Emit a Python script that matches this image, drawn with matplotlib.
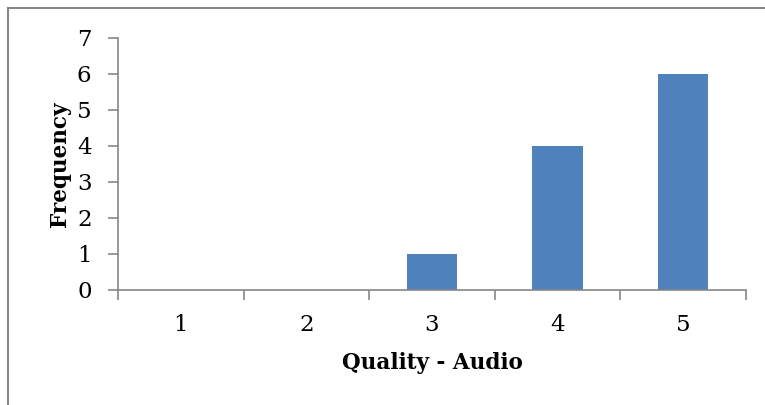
import matplotlib.pyplot as plt
from matplotlib.lines import Line2D

categories = ['1', '2', '3', '4', '5']
frequency = [0, 0, 1, 4, 6]

plt.rcParams['font.family'] = ['DejaVu Serif']

fig = plt.figure(figsize=(7.65, 4.05), dpi=100)
ax = fig.add_axes([118/765, 1 - 290/405, (746-118)/765, (290-38)/405])

x = range(len(categories))
ax.bar(x, frequency, width=0.4, color='#4f81bd')

ax.set_xlim(-0.5, len(categories) - 0.5)
ax.set_ylim(0, 7)
ax.set_yticks(range(8))
ax.set_xticks([i - 0.5 for i in range(len(categories) + 1)], minor=False)
ax.set_xticklabels([])
ax.set_xticks(list(x), minor=True)
ax.set_xticklabels(categories, minor=True)

grey = '#868686'
for s in ['top', 'right']:
    ax.spines[s].set_visible(False)
for s in ['left', 'bottom']:
    ax.spines[s].set_color(grey)
    ax.spines[s].set_linewidth(1.2)

ax.tick_params(axis='y', which='major', direction='out', length=7, width=1.2,
               color=grey, labelsize=16.5, pad=12)
ax.tick_params(axis='x', which='major', direction='out', length=7, width=1.2,
               color=grey)
ax.tick_params(axis='x', which='minor', length=0, labelsize=16.5, pad=17)

ax.set_xlabel('Quality - Audio', fontsize=15.5, fontweight='bold', labelpad=12)
ax.set_ylabel('Frequency', fontsize=15.5, fontweight='bold', labelpad=4)

# chart frame (cropped at right and bottom)
fig.add_artist(Line2D([8/765, 1], [1 - 8/405, 1 - 8/405], color=grey, lw=1.5,
                      transform=fig.transFigure))
fig.add_artist(Line2D([8/765, 8/765], [0, 1 - 8/405], color=grey, lw=1.5,
                      transform=fig.transFigure))

fig.savefig('out.png', dpi=100)
